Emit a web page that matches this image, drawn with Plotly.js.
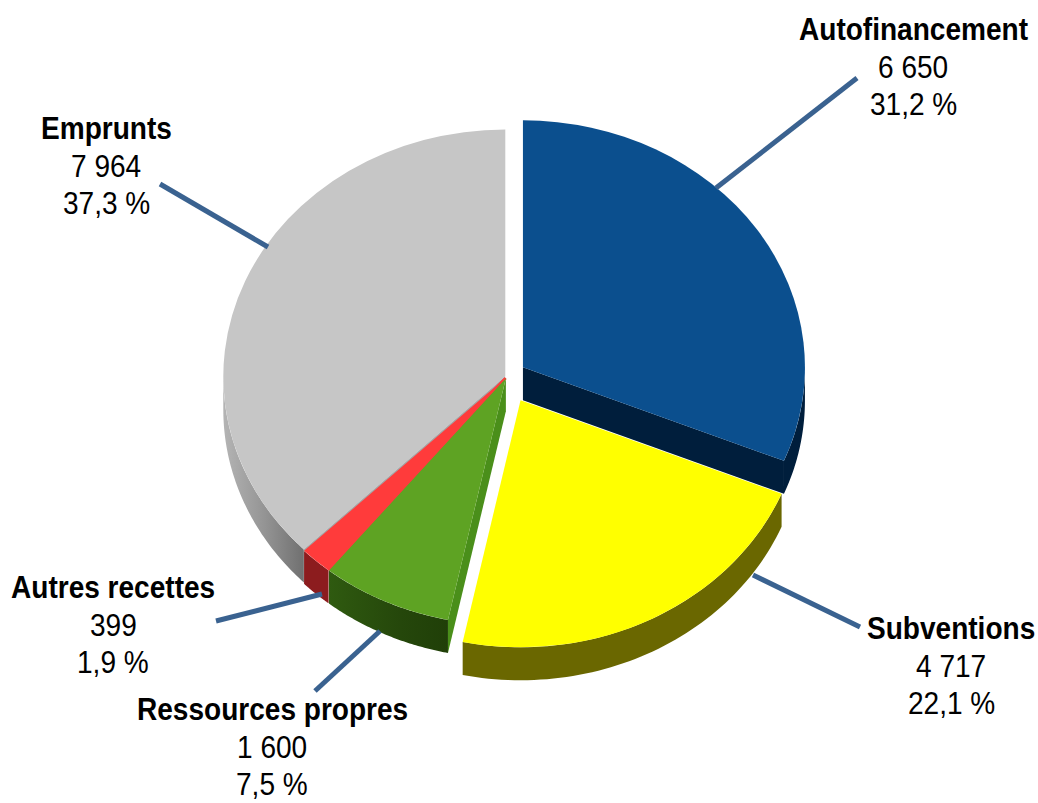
<!DOCTYPE html>
<html>
<head>
<meta charset="utf-8">
<script src="https://cdn.plot.ly/plotly-3.0.1.min.js"></script>
<style>
html,body{margin:0;padding:0;background:#fff;overflow:hidden}
.annotation-text{transform-box:fill-box;transform-origin:center;transform:scale(0.905,1);}
</style>
</head>
<body>
<div id="chart" style="width:1038px;height:803px"></div>
<script>
// ---- data ----
const categories = ['Autofinancement', 'Subventions', 'Ressources propres', 'Autres recettes', 'Emprunts'];
const values = [6650, 4717, 1600, 399, 7964];
const valueLabels = ['6 650', '4 717', '1 600', '399', '7 964'];
const percentLabels = ['31,2 %', '22,1 %', '7,5 %', '1,9 %', '37,3 %'];

// ---- styles ----
const topColors = ['#0b4f8e', '#ffff00', '#5ea323', '#ff3b3b', '#c6c6c6'];
const rimColors = ['#001e3c', '#6a6700', '#264a0c', '#8c1c1e', '#8f8f8f'];
const pullPixels = [19.8, 30, 1.5, 1.5, 1.3];
const labelX = [913, 951, 272, 113, 106];
const labelY = [67, 666, 747, 625, 166];
const LINE_STEP = 37.5;
const connectors = [
  [716, 188, 857, 78], [753, 575, 860, 627], [380, 631, 315, 691],
  [322, 594, 216, 621], [268, 247, 160, 184]
];

// ---- pie geometry (pixels) ----
const W = 1038, H = 803, CX = 506.5, CY = 377, R = 282, K = 0.876, DEPTH = 33;
const pulls = pullPixels.map(p => p / R);
const maxPull = Math.max(...pulls);
const half = R * (1 + maxPull);
document.head.insertAdjacentHTML('beforeend',
  `<style>.pielayer{transform:translate(0px,${CY * (1 - K)}px) scale(1,${K});}</style>`);

const total = values.reduce((a, b) => a + b, 0);
let cum = 0;
const slices = values.map((v, i) => {
  const a0 = cum / total * 2 * Math.PI; cum += v;
  const a1 = cum / total * 2 * Math.PI;
  const mid = (a0 + a1) / 2, d = pulls[i] * R;
  return { a0, a1, cx: CX + d * Math.sin(mid), cy: CY - d * Math.cos(mid) * K };
});
const pt = (s, a, dz) => [s.cx + R * Math.sin(a), s.cy - R * K * Math.cos(a) + dz];

function rim(s, from, to, extra) {
  const a = Math.max(from, Math.PI / 2), b = Math.min(to, 3 * Math.PI / 2);
  const xs = [], ys = [], n = 60;
  for (let j = 0; j <= n; j++) { const p = pt(s, a + (b - a) * j / n, 0); xs.push(p[0]); ys.push(p[1]); }
  for (let j = n; j >= 0; j--) { const p = pt(s, a + (b - a) * j / n, extra); xs.push(p[0]); ys.push(p[1]); }
  return [xs, ys];
}
function wallTrace(xy, color, gradient) {
  const t = { type: 'scatter', mode: 'none', x: xy[0], y: xy[1], fill: 'toself', fillcolor: color,
    hoverinfo: 'skip', showlegend: false, xaxis: 'x', yaxis: 'y' };
  if (gradient) t.fillgradient = { type: 'horizontal', colorscale: gradient };
  return t;
}
function radialFace(s, a) {
  const e0 = pt(s, a, 0), e1 = pt(s, a, DEPTH);
  return [[s.cx, e0[0], e1[0], s.cx, s.cx], [s.cy, e0[1], e1[1], s.cy + DEPTH, s.cy]];
}
// thin seam under the pie that closes the hairline between two neighbouring slices
function seam(s, a, color) {
  const e = pt(s, a, 0);
  return { type: 'scatter', mode: 'lines', x: [s.cx, e[0]], y: [s.cy, e[1]],
    line: { color: color, width: 3 }, hoverinfo: 'skip', showlegend: false, xaxis: 'x', yaxis: 'y' };
}

const walls = [
  wallTrace(rim(slices[4], slices[4].a0, slices[4].a1, DEPTH), rimColors[4],
    [[0, '#b4b4b4'], [0.5, '#959595'], [1, '#707070']]),
  wallTrace(rim(slices[3], slices[3].a0, slices[3].a1, DEPTH), rimColors[3]),
  wallTrace(radialFace(slices[2], slices[2].a0), '#4a8f1a'),
  wallTrace(rim(slices[2], slices[2].a0, slices[2].a1, DEPTH), rimColors[2],
    [[0, '#2f5a10'], [0.6, '#25470b'], [1, '#203f08']]),
  wallTrace(rim(slices[1], slices[1].a0, slices[1].a1, DEPTH), rimColors[1]),
  wallTrace(radialFace(slices[0], slices[0].a1), rimColors[0]),
  wallTrace(rim(slices[0], slices[0].a0, slices[0].a1, DEPTH), rimColors[0]),
  seam(slices[3], slices[3].a1, '#a6a6a6'),
  seam(slices[3], slices[3].a0, '#ff3b3b')
];

const pie = {
  type: 'pie', labels: categories, values: values, sort: false, direction: 'clockwise', rotation: 0,
  pull: pulls, textinfo: 'none', showlegend: false, automargin: false, hoverinfo: 'label+value+percent',
  marker: { colors: topColors, line: { width: 0 } },
  domain: { x: [(CX - half) / W, (CX + half) / W], y: [(H - CY - half) / H, (H - CY + half) / H] }
};

const annotations = [];
categories.forEach((c, i) => {
  [`<b>${c}</b>`, valueLabels[i], percentLabels[i]].forEach((text, line) => {
    annotations.push({
      xref: 'x', yref: 'y', x: labelX[i], y: labelY[i] + (line - 1) * LINE_STEP,
      xanchor: 'center', yanchor: 'middle', showarrow: false, align: 'center', text: text,
      font: { family: '"Liberation Sans", Arial, sans-serif', size: 31, color: '#000' }
    });
  });
});
const shapes = connectors.map(c => ({
  type: 'line', xref: 'x', yref: 'y', x0: c[0], y0: c[1], x1: c[2], y1: c[3],
  line: { color: '#3a6290', width: 5 }, layer: 'above'
}));

Plotly.newPlot('chart', walls.concat([pie]), {
  width: W, height: H, margin: { l: 0, r: 0, t: 0, b: 0 },
  paper_bgcolor: '#fff', plot_bgcolor: '#fff', showlegend: false,
  xaxis: { range: [0, W], visible: false, fixedrange: true },
  yaxis: { range: [H, 0], visible: false, fixedrange: true },
  annotations: annotations, shapes: shapes
}, { displayModeBar: false, responsive: false });
</script>
</body>
</html>
